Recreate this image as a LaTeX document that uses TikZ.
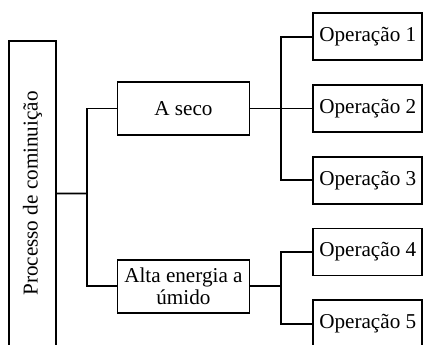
\documentclass[tikz,border=0pt]{standalone}
\usepackage{fontspec}
\setmainfont{Liberation Serif}
\usetikzlibrary{positioning,calc}

\begin{document}
\begin{tikzpicture}[x=1pt,y=1pt,node distance=13.1pt,
    box/.style={draw,line width=1pt,inner sep=0pt,font=\fontsize{12}{12}\selectfont},
    opbox/.style={box,minimum width=61.8pt,minimum height=26.6pt},
    kindbox/.style={box,minimum width=74.8pt,minimum height=30pt,align=center},
    link/.style={draw,line width=1pt}]

    \useasboundingbox (0,0) rectangle (242.1,-195.6);

    \node (op1) [opbox] at (208.5,-20.8) {Operação 1};
    \node (op2) [opbox,below=of op1] {Operação 2};
    \node (op3) [opbox,below=of op2] {Operação 3};
    \node (op4) [opbox,below=of op3] {Operação 4};
    \node (op5) [opbox,below=of op4] {Operação 5};
    \node (seco) [kindbox,left=35.2pt of op2] {A seco};
    \node (alta) [kindbox,below=69.8pt of seco] {Alta energia a\\úmido};
    \node (proc) [box,rotate=90,minimum width=173.1pt,minimum height=26.5pt] at (18.4,-109.7) {Processo de cominuição};

    \coordinate (splitP) at ($(proc.south)!0.5!(proc.south -| seco.west)$);
    \coordinate (splitS) at ($(seco.east)!0.5!(op2.west)$);
    \coordinate (splitA) at (splitS |- alta.east);

    \path[link] (proc.south) -- (splitP);
    \path[link] (seco.west) -| (splitP) |- (alta.west);
    \path[link] (seco.east) -- (op2.west);
    \path[link] (op1.west) -| (splitS) |- (op3.west);
    \path[link] (alta.east) -- (splitA);
    \path[link] (op4.west) -| (splitA) |- (op5.west);

\end{tikzpicture}
\end{document}
